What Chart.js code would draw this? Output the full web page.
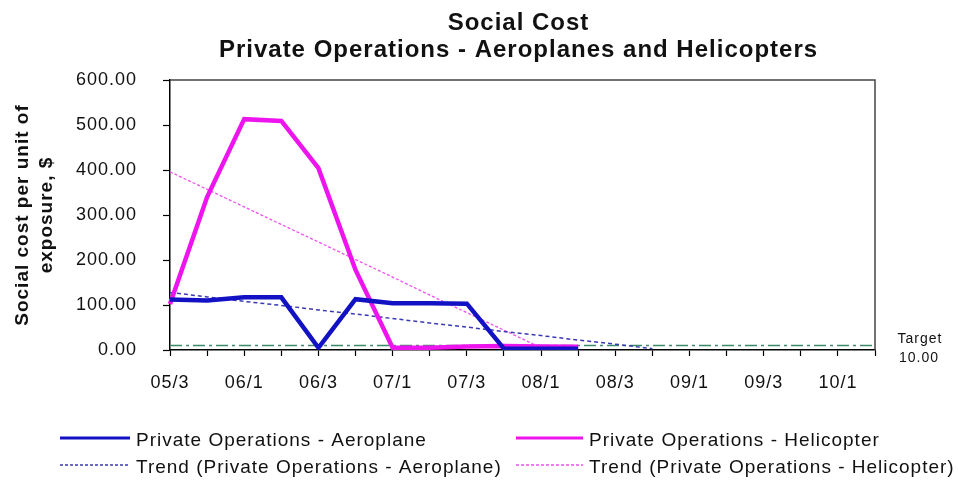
<!DOCTYPE html>
<html>
<head>
<meta charset="utf-8">
<title>Social Cost</title>
<script src="https://cdn.jsdelivr.net/npm/chart.js@4.4.1/dist/chart.umd.min.js"></script>
<style>
  html, body { margin: 0; padding: 0; background: #fff; }
  .chart-wrap { position: relative; width: 958px; height: 486px; }
</style>
</head>
<body>
<div class="chart-wrap"><canvas id="chart"></canvas></div>
<script>
// Chart data
const quarters = ['05/3', '05/4', '06/1', '06/2', '06/3', '06/4', '07/1', '07/2', '07/3', '07/4',
  '08/1', '08/2', '08/3', '08/4', '09/1', '09/2', '09/3', '09/4', '10/1', '10/2'];
const aeroplane = [112, 110, 117, 117, 5, 113, 104, 104, 103, 3, 3, 3];
const helicopter = [102, 340, 513, 509, 404, 178, 5, 5, 8, 9, 8, 7];
const aeroplaneTrend = [128, 118, 108, 99, 89, 80, 70, 60, 51, 41, 32, 22, 13, 3];
const helicopterTrend = [396, 357, 318, 279, 240, 201, 162, 122, 83, 44, 5];
const target = [10, 10, 10, 10, 10, 10, 10, 10, 10, 10, 10, 10, 10, 10, 10, 10, 10, 10, 10, 10];
const yTicks = [0, 100, 200, 300, 400, 500, 600];

const FONT = "'Liberation Sans', Arial, sans-serif";
const TEXT = '#111';

// Excel-ish text spacing + frame round the plot area
const framePlugin = {
  id: 'frame',
  beforeDraw(chart) {
    chart.ctx.letterSpacing = '1px';
  },
  beforeDatasetsDraw(chart) {
    const { ctx, chartArea: a } = chart;
    ctx.save();
    ctx.strokeStyle = '#444';
    ctx.lineWidth = 1.5;
    ctx.beginPath();
    ctx.moveTo(a.left, a.top);
    ctx.lineTo(a.right, a.top);
    ctx.lineTo(a.right, a.bottom);
    ctx.stroke();
    ctx.restore();
  }
};

// Title, target label and the two-column legend
const textPlugin = {
  id: 'texts',
  afterDraw(chart) {
    const { ctx, chartArea: a } = chart;
    const ds = chart.data.datasets;
    ctx.save();
    ctx.letterSpacing = '1px';
    ctx.fillStyle = TEXT;

    // title
    const cx = (a.left + a.right) / 2 - 4;
    ctx.font = 'bold 24px ' + FONT;
    ctx.textAlign = 'center';
    ctx.textBaseline = 'alphabetic';
    ctx.fillText('Social Cost', cx, 30);
    ctx.fillText('Private Operations - Aeroplanes and Helicopters', cx, 57);

    // target label
    const ty = chart.scales.y.getPixelForValue(target[0]);
    ctx.font = '14px ' + FONT;
    ctx.fillText('Target', a.right + 45, ty - 3);
    ctx.fillText('10.00', a.right + 44, ty + 16);

    // legend
    const items = [
      { i: 0, x1: 60, x2: 130, y: 438 },
      { i: 1, x1: 516, x2: 583, y: 438 },
      { i: 2, x1: 60, x2: 130, y: 465 },
      { i: 3, x1: 516, x2: 583, y: 465 }
    ];
    ctx.font = '19px ' + FONT;
    ctx.textAlign = 'left';
    items.forEach((it) => {
      const d = ds[it.i];
      ctx.save();
      ctx.strokeStyle = d.borderColor;
      ctx.lineWidth = d.legendWidth;
      ctx.setLineDash(d.legendDash || []);
      ctx.beginPath();
      ctx.moveTo(it.x1, it.y);
      ctx.lineTo(it.x2, it.y);
      ctx.stroke();
      ctx.restore();
      ctx.fillText(d.label, it.x2 + 6, it.y + 8);
    });
    ctx.restore();
  }
};

new Chart(document.getElementById('chart'), {
  type: 'line',
  data: {
    labels: quarters,
    datasets: [
      {
        label: 'Private Operations - Aeroplane',
        data: aeroplane,
        borderColor: '#1212c4',
        borderWidth: 4.5,
        legendWidth: 3
      },
      {
        label: 'Private Operations - Helicopter',
        data: helicopter,
        borderColor: '#ee14ee',
        borderWidth: 4.5,
        legendWidth: 3
      },
      {
        label: 'Trend (Private Operations - Aeroplane)',
        data: aeroplaneTrend,
        borderColor: '#3a3ab4',
        borderWidth: 1.5,
        borderDash: [4, 3],
        legendWidth: 1.3,
        legendDash: [3, 2]
      },
      {
        label: 'Trend (Private Operations - Helicopter)',
        data: helicopterTrend,
        borderColor: '#f050f0',
        borderWidth: 1.3,
        borderDash: [3, 2],
        legendWidth: 1.3,
        legendDash: [3, 2]
      },
      {
        label: 'Target',
        data: target,
        borderColor: '#3d8a6b',
        borderWidth: 1.5,
        borderDash: [12, 4, 3, 4]
      }
    ]
  },
  options: {
    responsive: true,
    maintainAspectRatio: false,
    animation: false,
    layout: { padding: { top: 80, right: 83, bottom: 76, left: 0 } },
    elements: {
      point: { radius: 0, hoverRadius: 0 },
      line: { tension: 0, fill: false, borderCapStyle: 'butt', borderJoinStyle: 'miter' }
    },
    plugins: {
      legend: { display: false },
      title: { display: false },
      tooltip: { enabled: false }
    },
    scales: {
      x: {
        type: 'category',
        offset: false,
        grid: { drawOnChartArea: false, drawTicks: true, tickLength: 6, color: '#000', tickWidth: 1.2 },
        border: { color: '#000', width: 1.5 },
        ticks: {
          autoSkip: false,
          maxRotation: 0,
          padding: 16,
          color: TEXT,
          font: { family: FONT, size: 18 },
          callback: (v, i) => (i % 2 === 0 ? quarters[i] : '')
        },
        afterFit: (scale) => { scale.height = 60; }
      },
      y: {
        min: yTicks[0],
        max: yTicks[yTicks.length - 1],
        grid: { drawOnChartArea: false, drawTicks: true, tickLength: 7, color: '#000', tickWidth: 1.2 },
        border: { color: '#000', width: 1.5 },
        ticks: {
          stepSize: yTicks[1] - yTicks[0],
          padding: 26,
          color: TEXT,
          font: { family: FONT, size: 18 },
          callback: (v) => v.toFixed(2)
        },
        title: {
          display: true,
          text: ['Social cost per unit of', 'exposure, $'],
          color: TEXT,
          font: { family: FONT, size: 19, weight: 'bold', lineHeight: 1.3 },
          padding: { top: 10, bottom: 0 }
        },
        afterFit: (scale) => { scale.width = 170; }
      }
    }
  },
  plugins: [framePlugin, textPlugin]
});
</script>
</body>
</html>
